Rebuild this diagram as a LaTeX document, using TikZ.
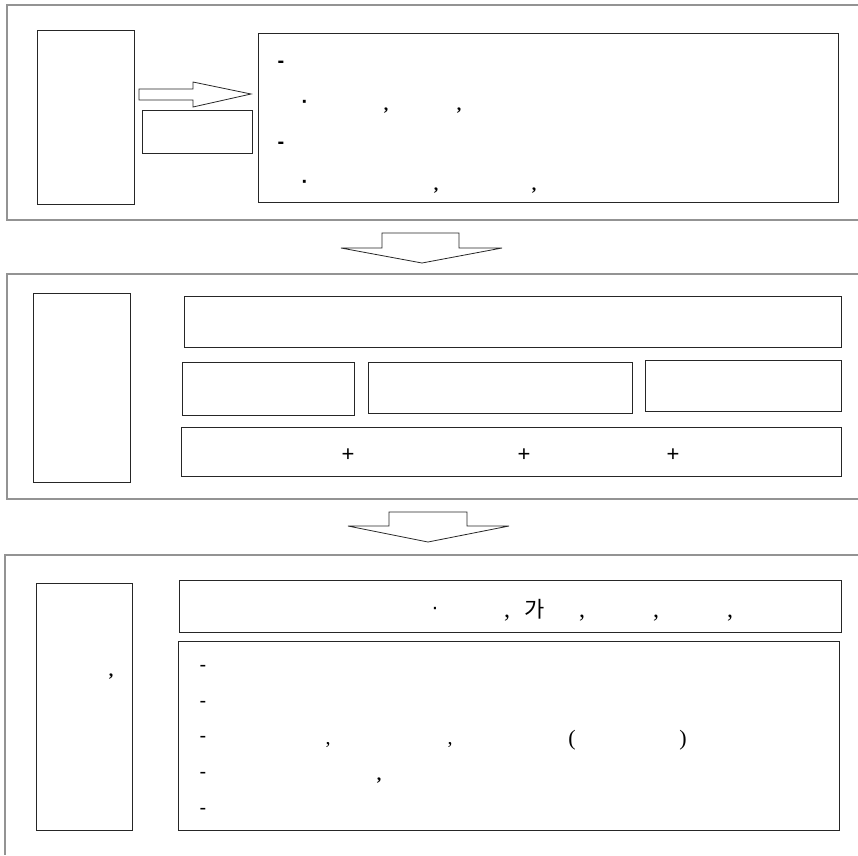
\documentclass[tikz,border=0pt]{standalone}
\usepackage{fontspec}
\setmainfont{Liberation Serif}
\setsansfont{Liberation Sans}
\newfontfamily\krfont{Noto Sans CJK KR}
\usetikzlibrary{positioning,calc}

\begin{document}
\begin{tikzpicture}[x=1pt,y=-1pt,
    panel/.style={draw=gray!85,line width=1.2pt},
    blk/.style={draw=black!85,line width=0.8pt},
    txt/.style={inner sep=0pt,font=\bfseries\fontsize{18}{20}\selectfont},
    bul/.style={inner sep=0pt,font=\sffamily\bfseries\fontsize{20}{22}\selectfont},
    big/.style={inner sep=0pt,font=\sffamily\fontsize{22}{24}\selectfont}]
    \useasboundingbox (0,0) rectangle (858,855);

    % first panel
    \draw[panel] (858,5) -- (7,5) -- (7,220) -- (858,220);
    \draw[blk] (37,30) rectangle (134,204);
    \draw[blk] (139,89) -- (193,89) -- (193,82) -- (251,94) -- (193,107) -- (193,100) -- (139,100) -- cycle;
    \draw[blk] (142,110) rectangle (252,153);
    \draw[blk] (258,33) rectangle (838,202);
    \node[bul] (d1) at (281,64) {-};
    \node[bul] (p1) at (305,104) {·};
    \node[txt] (c1) at (386,111) {,};
    \node[txt] (c2) at (459,111) {,};
    \node[bul] (d2) at (281,145) {-};
    \node[bul] (p2) at (305,184) {·};
    \node[txt] (c3) at (436,191) {,};
    \node[txt] (c4) at (534,191) {,};

    % arrow down
    \draw[blk] (382,233) -- (459,233) -- (459,248) -- (502,248) -- (422,263) -- (341,248) -- (382,248) -- cycle;

    % second panel
    \draw[panel] (858,274) -- (7,274) -- (7,499) -- (858,499);
    \draw[blk] (33,293) rectangle (130,482);
    \draw[blk] (184,296) rectangle (841,347);
    \draw[blk] (182,362) rectangle (354,415);
    \draw[blk] (368,362) rectangle (632,413);
    \draw[blk] (645,360) rectangle (841,411);
    \draw[blk] (181,427) rectangle (841,476);
    \node[big] (s1) at (348,455) {+};
    \node[big] (s2) at (524,455) {+};
    \node[big] (s3) at (673,455) {+};

    % arrow down
    \draw[blk] (389,512) -- (467,512) -- (467,526) -- (509,526) -- (428,542) -- (348,526) -- (389,526) -- cycle;

    % third panel
    \draw[panel] (858,555) -- (5,555) -- (5,855);
    \draw[blk] (36,583) rectangle (132,830);
    \node[txt] (c5) at (111,677) {,};
    \draw[blk] (179,580) rectangle (841,632);
    \node[big] (p3) at (435,611) {·};
    \node[big,font=\fontsize{24}{26}\selectfont] (c6) at (507,618) {,};
    \node[big] (ga) at (535,609) {\krfont 가};
    \node[big,font=\fontsize{24}{26}\selectfont] (c7) at (582,618) {,};
    \node[big,font=\fontsize{24}{26}\selectfont] (c8) at (656,618) {,};
    \node[big,font=\fontsize{24}{26}\selectfont] (c9) at (730,618) {,};
    \draw[blk] (178,641) rectangle (839,830);
    \foreach \y [count=\i] in {668,704,739,775,811}
        \node[txt,font=\sffamily\fontsize{20}{22}\selectfont] (d\i) at (203,\y) {-};
    \node[txt,font=\fontsize{20}{22}\selectfont] (c10) at (328,745) {,};
    \node[txt,font=\fontsize{20}{22}\selectfont] (c11) at (450,745) {,};
    \node[txt,font=\fontsize{22}{24}\selectfont] (o1) at (572,740) {(};
    \node[txt,font=\fontsize{22}{24}\selectfont] (o2) at (683,740) {)};
    \node[txt] (c12) at (379,781) {,};
\end{tikzpicture}
\end{document}
